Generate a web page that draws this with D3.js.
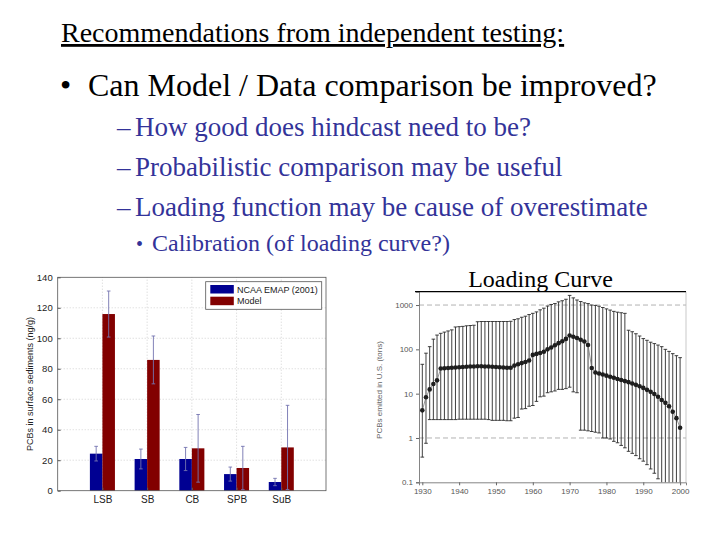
<!DOCTYPE html>
<html><head><meta charset="utf-8">
<script src="https://cdn.jsdelivr.net/npm/d3@7"></script>
<style>body{margin:0;background:#fff}svg{display:block}</style>
</head><body>
<svg id="c" width="720" height="540"></svg>
<script>
// ---------- slide text ----------
const titleText = "Recommendations from independent testing:";
const bullet1 = "Can Model / Data comparison be improved?";
const subBullets = ["How good does hindcast need to be?", "Probabilistic comparison may be useful", "Loading function may be cause of overestimate"];
const subSubBullet = "Calibration (of loading curve?)";

// ---------- bar chart data ----------
const basins = ["LSB", "SB", "CB", "SPB", "SuB"];
const seriesNames = ["NCAA EMAP (2001)", "Model"];
const emapValues = [24.3, 20.8, 20.8, 10.9, 5.7];
const emapErr = [4.8, 6.5, 7.6, 4.6, 2.4];
const modelValues = [115.9, 85.8, 27.8, 14.9, 28.4];
const modelErr = [15.1, 15.7, 22.2, 14.2, 27.6];
const barTicks = [0, 20, 40, 60, 80, 100, 120, 140];

// ---------- loading curve data ----------
const years = [1930,1931,1932,1933,1934,1935,1936,1937,1938,1939,1940,1941,1942,1943,1944,1945,1946,1947,1948,1949,1950,1951,1952,1953,1954,1955,1956,1957,1958,1959,1960,1961,1962,1963,1964,1965,1966,1967,1968,1969,1970,1971,1972,1973,1974,1975,1976,1977,1978,1979,1980,1981,1982,1983,1984,1985,1986,1987,1988,1989,1990,1991,1992,1993,1994,1995,1996,1997,1998,1999,2000];
const loading = [4.2,8.3,12.5,16.5,20,37,37.5,38,38.5,39,39.5,40,40.5,41,41,41.5,41.5,41,41,40.5,40,39.5,39,38.5,38.5,43,46,49,52,56,75,79,83,88,100,110,124,138,152,172,205,192,180,165,150,125,38,30,28.5,27,25.5,24,22.8,21.5,20.3,19.2,18.2,17,15.8,14.7,13.5,12.2,11,9.8,8.5,7.2,6.2,5.2,3.9,2.8,1.7];
const loadingUpper = [46,82,115,170,210,230,245,260,275,320,325,330,340,345,350,420,425,425,425,425,425,425,425,425,430,470,490,530,560,610,650,700,780,850,950,1030,1080,1180,1250,1350,1650,1450,1300,1200,1120,1080,1000,980,940,880,820,770,720,690,670,650,270,250,225,200,175,160,145,135,125,115,100,90,80,72,65];
const loadingLower = [0.37,0.76,2.6,2.6,2.6,2.6,2.6,2.6,2.6,2.6,2.65,2.65,2.65,2.65,2.65,2.65,2.65,2.65,2.6,2.5,2.5,2.5,2.5,2.45,2.45,2.8,2.9,4.5,4.6,5.2,5.4,6.7,8.5,8.8,10.5,11,11.5,12.5,12.5,13,14,11,10.5,1.5,1.5,1.45,1.4,1.35,1.3,1.0,1.0,0.95,0.84,0.78,0.68,0.6,0.5,0.45,0.4,0.34,0.3,0.25,0.2,0.16,0.12,0.1,0.09,0.08,0.07,0.06,0.05];
const logTicks = [0.1, 1, 10, 100, 1000];
const logTickLabels = ["0.1", "1", "10", "100", "1000"];
const yearTicks = [1930, 1940, 1950, 1960, 1970, 1980, 1990, 2000];
const dashedRefs = [1, 1000];

const svg = d3.select("#c");
const serif = "'Liberation Serif','Times New Roman',serif";
const sans = "'Liberation Sans',Arial,sans-serif";

// ---------- slide text ----------
svg.append("text").attr("x", 61).attr("y", 42).attr("font-family", serif).attr("font-size", 28)
  .attr("fill", "#000").attr("text-decoration", "underline").text(titleText);
svg.append("text").attr("x", 60).attr("y", 96).attr("font-family", serif).attr("font-size", 32).attr("fill", "#000").text("\u2022");
svg.append("text").attr("x", 88).attr("y", 96).attr("font-family", serif).attr("font-size", 32).attr("fill", "#000").text(bullet1);
subBullets.forEach((t, i) => {
  const y = 136 + i * 40;
  svg.append("text").attr("x", 117).attr("y", y).attr("font-family", serif).attr("font-size", 27).attr("fill", "#333399").text("\u2013");
  svg.append("text").attr("x", 135).attr("y", y).attr("font-family", serif).attr("font-size", 27).attr("fill", "#333399").text(t);
});
svg.append("text").attr("x", 136).attr("y", 251).attr("font-family", serif).attr("font-size", 20).attr("fill", "#333399").text("\u2022");
svg.append("text").attr("x", 152).attr("y", 251).attr("font-family", serif).attr("font-size", 24).attr("fill", "#333399").text(subSubBullet);

// ---------- bar chart ----------
const bx = d3.scaleLinear().domain([0, 6]).range([57.7, 326]);
const by = d3.scaleLinear().domain([0, 140]).range([490.7, 277.3]);
const bw = 0.28;
const bg = svg.append("g");
// grid
bg.selectAll(".hg").data(barTicks.slice(1, -1)).join("line")
  .attr("x1", bx(0)).attr("x2", bx(6)).attr("y1", d => by(d)).attr("y2", d => by(d))
  .attr("stroke", "#c8c8c8").attr("stroke-width", 0.8).attr("stroke-dasharray", "1,2");
bg.selectAll(".vg").data(basins).join("line")
  .attr("x1", (d, i) => bx(i + 1)).attr("x2", (d, i) => bx(i + 1)).attr("y1", by(0)).attr("y2", by(140))
  .attr("stroke", "#c8c8c8").attr("stroke-width", 0.8).attr("stroke-dasharray", "1,2");
// bars
const barColors = ["#000092", "#820000"];
[emapValues, modelValues].forEach((vals, s) => {
  bg.selectAll(".b" + s).data(vals).join("rect")
    .attr("x", (d, i) => bx(i + 1 + (s === 0 ? -bw : 0)))
    .attr("width", bx(bw) - bx(0))
    .attr("y", d => by(d)).attr("height", d => by(0) - by(d))
    .attr("fill", barColors[s]);
});
// error bars
[[emapValues, emapErr, -bw / 2], [modelValues, modelErr, bw / 2]].forEach(([vals, errs, off]) => {
  vals.forEach((v, i) => {
    const cx = bx(i + 1 + off);
    const g = bg.append("g").attr("stroke", "#7474b0").attr("stroke-width", 0.9);
    g.append("line").attr("x1", cx).attr("x2", cx).attr("y1", by(v - errs[i])).attr("y2", by(v + errs[i]));
    g.append("line").attr("x1", cx - 1.8).attr("x2", cx + 1.8).attr("y1", by(v + errs[i])).attr("y2", by(v + errs[i]));
    g.append("line").attr("x1", cx - 1.8).attr("x2", cx + 1.8).attr("y1", by(v - errs[i])).attr("y2", by(v - errs[i]));
  });
});
// frame
bg.append("rect").attr("x", bx(0)).attr("y", by(140)).attr("width", bx(6) - bx(0)).attr("height", by(0) - by(140))
  .attr("fill", "none").attr("stroke", "#555").attr("stroke-width", 0.8);
// axes
const bYAxis = bg.append("g").attr("transform", `translate(${bx(0)},0)`)
  .call(d3.axisLeft(by).tickValues(barTicks).tickSize(-3).tickPadding(5));
const bXAxis = bg.append("g").attr("transform", `translate(0,${by(0)})`)
  .call(d3.axisBottom(bx).tickValues([1, 2, 3, 4, 5]).tickFormat((d) => basins[d - 1]).tickSize(-3).tickPadding(5));
[bYAxis, bXAxis].forEach(a => {
  a.select(".domain").remove();
  a.selectAll(".tick line").attr("stroke", "#555");
  a.selectAll("text").attr("font-family", sans).attr("fill", "#222");
});
bYAxis.selectAll("text").attr("font-size", 9.5);
bXAxis.selectAll("text").attr("font-size", 10);
bg.append("text").attr("transform", "translate(33,384) rotate(-90)").attr("text-anchor", "middle")
  .attr("font-family", sans).attr("font-size", 9).attr("fill", "#222").text("PCBs in surface sediments (ng/g)");
// legend
const lg = bg.append("g");
lg.append("rect").attr("x", 205.7).attr("y", 281.7).attr("width", 116).attr("height", 27.6).attr("fill", "#fff").attr("stroke", "#555").attr("stroke-width", 0.8);
seriesNames.forEach((n, i) => {
  lg.append("rect").attr("x", 210.3).attr("y", 285 + i * 11.7).attr("width", 23.5).attr("height", 8.5).attr("fill", barColors[i]);
  lg.append("text").attr("x", 237).attr("y", 292.5 + i * 11.7).attr("font-family", sans).attr("font-size", 9).attr("fill", "#222").text(n);
});

// ---------- loading curve ----------
const lx = d3.scaleLinear().domain([1929.1, 2001.6]).range([419, 686]);
const ly = d3.scaleLog().domain([0.1, 2000]).range([482.3, 291.7]).clamp(true);
const lgp = svg.append("g");
lgp.append("text").attr("x", 540.5).attr("y", 287).attr("text-anchor", "middle").attr("font-family", serif)
  .attr("font-size", 24).attr("fill", "#000").text("Loading Curve");
// dashed reference lines
lgp.selectAll(".ref").data(dashedRefs).join("line")
  .attr("x1", 419).attr("x2", 686).attr("y1", d => ly(d)).attr("y2", d => ly(d))
  .attr("stroke", "#aaa").attr("stroke-width", 0.9).attr("stroke-dasharray", "5,3");
// frame right
lgp.append("line").attr("x1", 686).attr("x2", 686).attr("y1", 291.7).attr("y2", 482.3).attr("stroke", "#bbb").attr("stroke-width", 0.8);
// error bars
const capW = 1.8;
years.forEach((yr, i) => {
  const cx = lx(yr);
  const g = lgp.append("g").attr("stroke", "#2a2a2a").attr("stroke-width", 0.9);
  g.append("line").attr("x1", cx).attr("x2", cx).attr("y1", ly(loadingLower[i])).attr("y2", ly(loadingUpper[i]));
  g.append("line").attr("x1", cx - capW).attr("x2", cx + capW).attr("y1", ly(loadingUpper[i])).attr("y2", ly(loadingUpper[i]));
  if (loadingLower[i] > 0.1)
    g.append("line").attr("x1", cx - capW).attr("x2", cx + capW).attr("y1", ly(loadingLower[i])).attr("y2", ly(loadingLower[i]));
});
// connecting line
lgp.append("path").datum(years.map((y, i) => [y, loading[i]]))
  .attr("d", d3.line().x(d => lx(d[0])).y(d => ly(d[1])))
  .attr("fill", "none").attr("stroke", "#777").attr("stroke-width", 0.8);
lgp.selectAll(".pt").data(loading).join("circle")
  .attr("cx", (d, i) => lx(years[i])).attr("cy", d => ly(d)).attr("r", 2.3).attr("fill", "#1e1e1e");
// axes
const lYAxis = lgp.append("g").attr("transform", "translate(419,0)")
  .call(d3.axisLeft(ly).tickValues(logTicks).tickFormat((d, i) => logTickLabels[i]).tickSize(3).tickPadding(3));
const lXAxis = lgp.append("g").attr("transform", "translate(0,482.3)")
  .call(d3.axisBottom(lx).tickValues(yearTicks).tickFormat(d3.format("d")).tickSize(3).tickPadding(3));
[lYAxis, lXAxis].forEach(a => {
  a.select(".domain").attr("stroke", "#666").attr("stroke-width", 0.8);
  a.selectAll(".tick line").attr("stroke", "#666");
  a.selectAll("text").attr("font-family", sans).attr("font-size", 8).attr("fill", "#555");
});
lgp.append("text").attr("transform", "translate(382,390) rotate(-90)").attr("text-anchor", "middle")
  .attr("font-family", sans).attr("font-size", 8).attr("fill", "#666").text("PCBs emitted in U.S. (tons)");
// top rule
lgp.append("line").attr("x1", 415).attr("x2", 686).attr("y1", 291.7).attr("y2", 291.7).attr("stroke", "#000").attr("stroke-width", 1.3);
</script>
</body></html>
